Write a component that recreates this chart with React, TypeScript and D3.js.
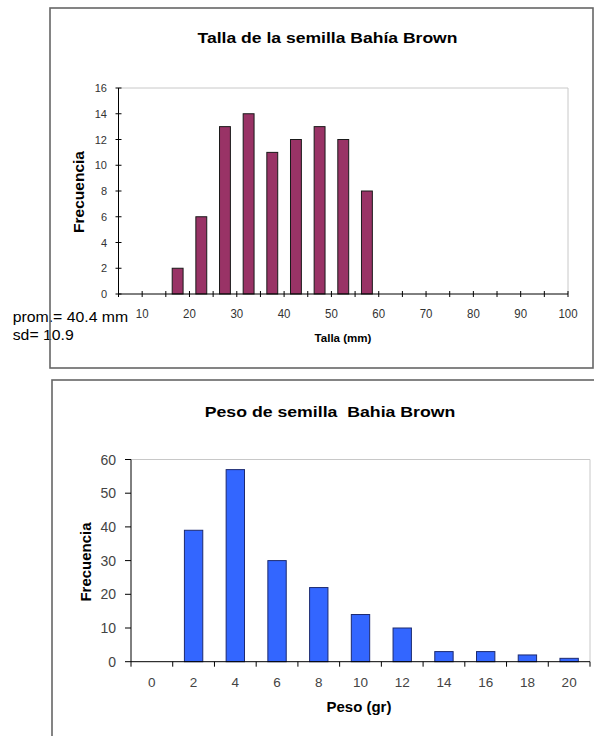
import React from 'react';
import * as d3 from 'd3';

// Seed length histogram (mm): bin centres and counts
const tallaBins = [17.5, 22.5, 27.5, 32.5, 37.5, 42.5, 47.5, 52.5, 57.5];
const tallaFreq = [2, 6, 13, 14, 11, 12, 13, 12, 8];
const tallaXLabels = [10, 20, 30, 40, 50, 60, 70, 80, 90, 100];
const tallaXTicks = [5, 10, 15, 20, 25, 30, 35, 40, 45, 50, 55, 60, 65, 70, 75, 80, 85, 90, 95, 100];
const tallaYTicks = [0, 2, 4, 6, 8, 10, 12, 14, 16];

// Seed weight histogram (gr)
const pesoCats = ['0', '2', '4', '6', '8', '10', '12', '14', '16', '18', '20'];
const pesoFreq = [0, 39, 57, 30, 22, 14, 10, 3, 3, 2, 1];
const pesoYTicks = [0, 10, 20, 30, 40, 50, 60];

const FONT = "'Liberation Sans', Arial, Helvetica, sans-serif";

type TProps = {
  x: number;
  y: number;
  size: number;
  sx?: number;
  bold?: boolean;
  anchor?: 'start' | 'middle' | 'end';
  fill?: string;
  rotate?: number;
  children: React.ReactNode;
};

function T({ x, y, size, sx = 1, bold = false, anchor = 'start', fill = '#000', rotate = 0, children }: TProps) {
  return (
    <text
      transform={`translate(${x},${y}) rotate(${rotate}) scale(${sx},1)`}
      fontFamily={FONT}
      fontSize={size}
      fontWeight={bold ? 700 : 400}
      textAnchor={anchor}
      fill={fill}
      style={{ whiteSpace: 'pre' }}
    >
      {children}
    </text>
  );
}

function TallaChart() {
  const x = d3.scaleLinear().domain([5, 100]).range([118.5, 568]);
  const y = d3.scaleLinear().domain([0, 16]).range([294, 88]);
  const barW = x(7.3) - x(5);
  return (
    <g>
      <rect x={50} y={8} width={543} height={360} fill="#fff" />
      <T x={327.5} y={43} size={15} sx={1.17} bold anchor="middle">
        Talla de la semilla Bahía Brown
      </T>
      {/* plot area outline */}
      <line x1={x(5)} x2={x(100)} y1={y(16)} y2={y(16)} stroke="#c8c8c8" />
      <line x1={x(100)} x2={x(100)} y1={y(16)} y2={y(0)} stroke="#c8c8c8" />
      {tallaBins.map((b, i) => (
        <rect
          key={b}
          x={x(b) - barW / 2}
          y={y(tallaFreq[i])}
          width={barW}
          height={y(0) - y(tallaFreq[i])}
          fill="#993366"
          stroke="#1a1a1a"
          strokeWidth={1}
        />
      ))}
      {/* axes */}
      <line x1={x(5)} x2={x(5)} y1={y(16)} y2={y(0)} stroke="#000" />
      <line x1={x(5)} x2={x(100)} y1={y(0)} y2={y(0)} stroke="#000" />
      {tallaYTicks.map((t) => (
        <g key={t}>
          <line x1={x(5) - 3} x2={x(5) + 3} y1={y(t)} y2={y(t)} stroke="#000" />
          <T x={107} y={y(t) + 4} size={11} anchor="end" fill="#333">
            {t}
          </T>
        </g>
      ))}
      {tallaXTicks.map((t) => (
        <line key={t} x1={x(t)} x2={x(t)} y1={y(0) - 3} y2={y(0) + 3} stroke="#000" />
      ))}
      {tallaXLabels.map((t) => (
        <T key={t} x={x(t)} y={317.5} size={13.5} sx={0.85} anchor="middle" fill="#333">
          {t}
        </T>
      ))}
      <T x={84} y={192} size={15.5} bold anchor="middle" rotate={-90}>
        Frecuencia
      </T>
      <T x={343} y={342} size={11} sx={1.05} bold anchor="middle">
        Talla (mm)
      </T>
      <T x={12.7} y={322.3} size={14} sx={1.13}>
        prom.= 40.4 mm
      </T>
      <T x={12.7} y={340} size={14} sx={1.13}>
        sd= 10.9
      </T>
      <rect x={50} y={8} width={543} height={360} fill="none" stroke="#666" strokeWidth={1.6} />
    </g>
  );
}

function PesoChart() {
  const x = d3.scaleBand<string>().domain(pesoCats).range([131, 590]);
  const y = d3.scaleLinear().domain([0, 60]).range([661.7, 459.5]);
  const bw = x.bandwidth();
  const barW = bw * 0.44;
  const edges = pesoCats.map((c) => x(c) as number).concat([590]);
  return (
    <g>
      <rect x={52} y={380} width={560} height={400} fill="#fff" stroke="#666" strokeWidth={1.6} />
      <T x={330} y={416.5} size={15} sx={1.18} bold anchor="middle">
        {'Peso de semilla  Bahia Brown'}
      </T>
      <line x1={131} x2={590} y1={y(60)} y2={y(60)} stroke="#c8c8c8" />
      <line x1={590} x2={590} y1={y(60)} y2={y(0)} stroke="#c8c8c8" />
      {pesoCats.map((c, i) => (
        <rect
          key={c}
          x={(x(c) as number) + bw / 2 - barW / 2}
          y={y(pesoFreq[i])}
          width={barW}
          height={y(0) - y(pesoFreq[i])}
          fill="#3366ff"
          stroke="#1c2a70"
          strokeWidth={1}
        />
      ))}
      <line x1={131} x2={131} y1={y(60)} y2={y(0)} stroke="#000" />
      <line x1={131} x2={590} y1={y(0)} y2={y(0)} stroke="#000" />
      {pesoYTicks.map((t) => (
        <g key={t}>
          <line x1={125} x2={131} y1={y(t)} y2={y(t)} stroke="#000" />
          <T x={116} y={y(t) + 5} size={14} anchor="end" fill="#444">
            {t}
          </T>
        </g>
      ))}
      {edges.map((e, i) => (
        <line key={i} x1={e} x2={e} y1={y(0)} y2={y(0) + 5} stroke="#000" />
      ))}
      {pesoCats.map((c) => (
        <T key={c} x={(x(c) as number) + bw / 2} y={686.5} size={13.5} anchor="middle" fill="#444">
          {c}
        </T>
      ))}
      <T x={91} y={562} size={15} bold anchor="middle" rotate={-90}>
        Frecuencia
      </T>
      <T x={359} y={712} size={14} sx={1.07} bold anchor="middle">
        Peso (gr)
      </T>
    </g>
  );
}

export default function App() {
  return (
    <svg
      width={594}
      height={736}
      style={{ position: 'absolute', left: 0, top: 0, background: '#fff' }}
    >
      <rect width={594} height={736} fill="#fff" />
      <TallaChart />
      <PesoChart />
    </svg>
  );
}
